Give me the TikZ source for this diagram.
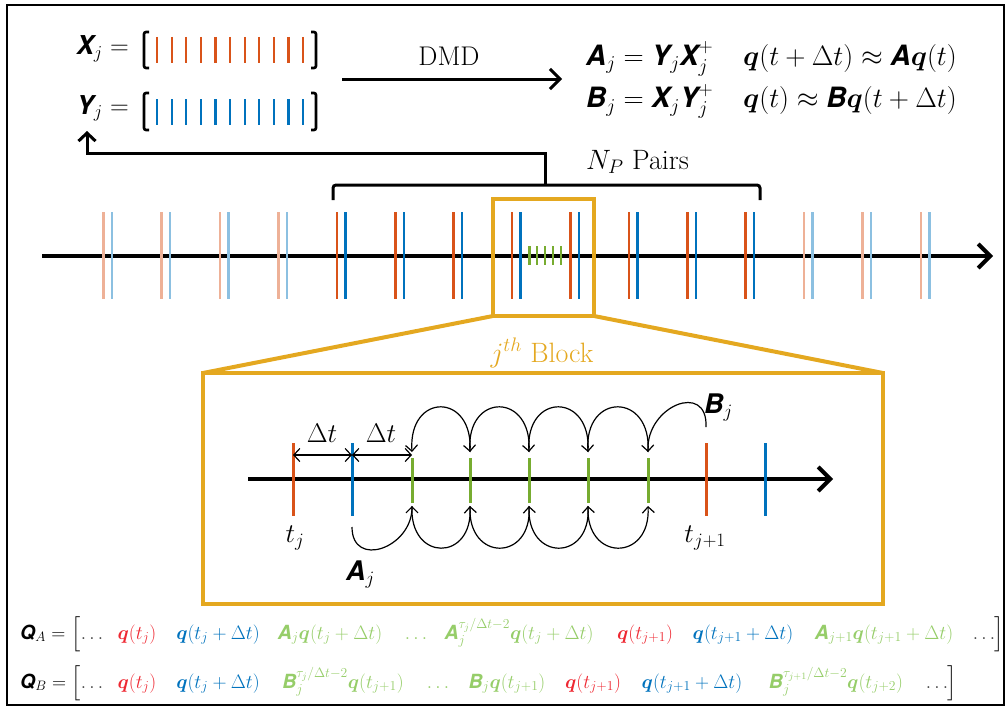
\RequirePackage{fix-cm}
\documentclass[tikz,border=0pt]{standalone}
\usepackage{amsmath,amssymb}
\usepackage{bm}
\usepackage{fontspec}
\usepackage{xcolor}
\usepackage{tikz}
\usetikzlibrary{arrows.meta, positioning, calc}

\definecolor{dmdorange}{RGB}{217,83,25}
\definecolor{dmdblue}{RGB}{0,114,189}
\definecolor{dmdgreen}{RGB}{119,172,48}
\definecolor{dmdgold}{RGB}{228,168,32}
\definecolor{qred}{RGB}{238,40,50}
\definecolor{qgreen}{RGB}{150,205,105}

\newfontfamily\heros{TeX Gyre Heros}
\newcommand{\mbf}[1]{\text{\heros\bfseries\itshape #1}}

\tikzset{
    timeline/.style={
        draw=black,
        line width=4pt,
        -{Straight Barb[length=12pt,width=24pt]}
    },
    pairtick/.style={
        line width=2.5pt
    },
    greentick/.style={
        draw=dmdgreen,
        line width=2.5pt
    },
    blockbox/.style={
        rectangle,
        draw=dmdgold,
        line width=4pt,
        outer sep=0pt,
        inner sep=0pt
    },
    zoomline/.style={
        draw=dmdgold,
        line width=4pt,
        line cap=round
    },
    flow/.style={
        draw=black,
        line width=3pt,
        -{Straight Barb[length=10pt,width=20pt]}
    },
    hop/.style={
        draw=black,
        line width=1.2pt,
        -{Straight Barb[length=6pt,width=12pt]}
    },
    span/.style={
        draw=black,
        line width=1.2pt,
        {Straight Barb[length=6pt,width=13pt]}-{Straight Barb[length=6pt,width=13pt]}
    },
    matbrack/.style={
        draw=black,
        line width=2.6pt,
        rounded corners=2pt
    },
    lbl/.style={
        font=\fontsize{27}{32}\selectfont,
        inner sep=0pt
    },
    qterm/.style={
        font=\fontsize{19.5}{23}\selectfont,
        inner sep=0pt,
        anchor=base
    }
}

\begin{document}
\begin{tikzpicture}[x=1pt, y=-1pt]

\useasboundingbox (0,0) rectangle (1008,709);
\draw[line width=2pt] (7,5) rectangle (1004,705);

% snapshot matrices
\node[lbl, font=\fontsize{26}{30}\selectfont, anchor=base east] (xlab) at (129,55) {$\mbf{X}_j =$};
\node[lbl, font=\fontsize{26}{30}\selectfont, anchor=base east] (ylab) at (129,114) {$\mbf{Y}_j =$};

\draw[matbrack] (149,32) -- (144,32) -- (144,68) -- (149,68);
\draw[matbrack] (311,32) -- (316,32) -- (316,68) -- (311,68);
\draw[matbrack] (149,93) -- (144,93) -- (144,130) -- (149,130);
\draw[matbrack] (311,93) -- (316,93) -- (316,130) -- (311,130);

\foreach \i in {0,...,10} {
    \draw[pairtick, line width=2.2pt, dmdorange] (157+14.6*\i,37) -- (157+14.6*\i,63);
    \draw[pairtick, line width=2.2pt, dmdblue] (157+14.6*\i,99) -- (157+14.6*\i,125);
}

% DMD step
\coordinate (dmdin) at (342,79);
\coordinate (dmdout) at (562,79);
\draw[flow] (dmdin) -- (dmdout);
\node[lbl, anchor=base] (dmdlab) at (449,65) {DMD};

\node[lbl, font=\fontsize{28}{33}\selectfont, anchor=west] (dmdeq) at (586,80) {$\begin{array}{@{}r@{{}={}}l@{\hspace{30pt}}l@{}}
    \mbf{A}_j & \mbf{Y}_j\mbf{X}_j^+ & \bm{q}(t+\Delta t)\approx \mbf{A}\bm{q}(t)\\[9pt]
    \mbf{B}_j & \mbf{X}_j\mbf{Y}_j^+ & \bm{q}(t)\approx \mbf{B}\bm{q}(t+\Delta t)
\end{array}$};

% full time series
\coordinate (tl0) at (42,256);
\coordinate (tl1) at (993,256);
\draw[timeline] (tl0) -- (tl1);

\foreach \k in {0,...,14} {
    \ifnum\k<4 \def\fade{45}\else\ifnum\k>11 \def\fade{45}\else\def\fade{100}\fi\fi
    \draw[pairtick, dmdorange!\fade] (103.3+58.4*\k,212) -- (103.3+58.4*\k,299);
    \draw[pairtick, dmdblue!\fade] (111.8+58.4*\k,212) -- (111.8+58.4*\k,299);
}
\foreach \i in {0,...,4} {
    \draw[greentick] (529.3+7.9*\i,246) -- (529.3+7.9*\i,265);
}

% pairs bracket
\coordinate (npL) at (333,200);
\coordinate (npR) at (760,200);
\coordinate (npM) at (545,185);
\coordinate (ytip) at (87,131);
\draw[matbrack, line width=3pt, rounded corners=3pt] (npL) -- (333,185) -- (760,185) -- (npR);
\draw[flow, -{Straight Barb[length=8pt,width=17pt]}] (npM) -- (545,153) -| (ytip);
\node[lbl, font=\fontsize{28}{33}\selectfont, anchor=base west] (nplab) at (586,169) {$N_P$ Pairs};

% j-th block and zoom
\node[blockbox, minimum width=101pt, minimum height=117pt] (blk) at (543.5,257.5) {};
\node[blockbox, minimum width=680pt, minimum height=231pt] (bigblk) at (543,488.5) {};
\draw[zoomline] (blk.south west) -- (bigblk.north west);
\draw[zoomline] (blk.south east) -- (bigblk.north east);
\node[lbl, font=\fontsize{28}{33}\selectfont, text=dmdgold, anchor=base] (blklab) at (542,362) {$j^{th}$ Block};

% inside the block
\coordinate (in0) at (248,479);
\coordinate (in1) at (833,479);
\draw[timeline] (in0) -- (in1);

\draw[pairtick, line width=3pt, dmdorange] (293,443) -- (293,516);
\draw[pairtick, line width=3pt, dmdblue] (352,443) -- (352,516);
\draw[pairtick, line width=3pt, dmdorange] (706,443) -- (706,516);
\draw[pairtick, line width=3pt, dmdblue] (765,443) -- (765,516);

\foreach \i/\x in {1/412,2/470,3/529,4/588,5/648} {
    \draw[greentick, line width=3pt] (\x,458) -- (\x,503);
    \coordinate (gt\i) at (\x,452);
    \coordinate (gb\i) at (\x,506);
}

\coordinate (dtA) at (293,455);
\coordinate (dtB) at (352,455);
\coordinate (dtC) at (412,455);
\draw[span] (dtA) -- (dtB);
\draw[span] (dtB) -- (dtC);
\node[lbl, anchor=base] (dtlabA) at (322,442) {$\Delta t$};
\node[lbl, anchor=base] (dtlabB) at (381,442) {$\Delta t$};

\coordinate (abeg) at (352,527);
\draw[hop] (abeg) .. controls +(0,42) and +(0,42) .. (gb1);
\foreach \i [evaluate=\i as \j using int(\i+1)] in {1,...,4} {
    \draw[hop] (gb\i) .. controls +(-3,56) and +(3,56) .. (gb\j);
}

\coordinate (bbeg) at (706,427);
\draw[hop] (bbeg) .. controls +(2,-46) and +(-2,-46) .. (gt5);
\foreach \i [evaluate=\i as \j using int(\i-1)] in {5,...,2} {
    \draw[hop] (gt\i) .. controls +(4,-60) and +(-4,-60) .. (gt\j);
}

\node[lbl, anchor=base] (tjlab) at (295,542) {$t_j$};
\node[lbl, anchor=base] (tj1lab) at (705,542) {$t_{j+1}$};
\node[lbl, anchor=base west] (alab) at (346,580) {$\mbf{A}_j$};
\node[lbl, anchor=base west] (blab) at (704,413) {$\mbf{B}_j$};

% snapshot orderings
\node[qterm, anchor=base west] (qa0) at (20,639) {$\mbf{Q}_A =$};
\node[qterm] (qa1) at (76,639) {$\Big[$};
\node[qterm, text=black!75] (qa2) at (92,639) {$\ldots$};
\node[qterm, text=qred] (qa3) at (137,639) {$\bm{q}(t_j)$};
\node[qterm, text=dmdblue] (qa4) at (218,639) {$\bm{q}(t_j+\Delta t)$};
\node[qterm, text=qgreen] (qa5) at (330,639) {$\mbf{A}_j\bm{q}(t_j+\Delta t)$};
\node[qterm, text=qgreen] (qa6) at (416,639) {$\ldots$};
\node[qterm, text=qgreen] (qa7) at (519,639) {$\mbf{A}_j^{\tau_j/\Delta t-2}\bm{q}(t_j+\Delta t)$};
\node[qterm, text=qred] (qa8) at (645,639) {$\bm{q}(t_{j+1})$};
\node[qterm, text=dmdblue] (qa9) at (743,639) {$\bm{q}(t_{j+1}+\Delta t)$};
\node[qterm, text=qgreen] (qa10) at (884,639) {$\mbf{A}_{j+1}\bm{q}(t_{j+1}+\Delta t)$};
\node[qterm, text=black!75] (qa11) at (984,639) {$\ldots$};
\node[qterm] (qa12) at (999,639) {$\Big]$};

\node[qterm, anchor=base west] (qb0) at (20,688) {$\mbf{Q}_B =$};
\node[qterm] (qb1) at (76,688) {$\Big[$};
\node[qterm, text=black!75] (qb2) at (92,688) {$\ldots$};
\node[qterm, text=qred] (qb3) at (137,688) {$\bm{q}(t_j)$};
\node[qterm, text=dmdblue] (qb4) at (218,688) {$\bm{q}(t_j+\Delta t)$};
\node[qterm, text=qgreen] (qb5) at (343,688) {$\mbf{B}_j^{\tau_j/\Delta t-2}\bm{q}(t_{j+1})$};
\node[qterm, text=qgreen] (qb6) at (438,688) {$\ldots$};
\node[qterm, text=qgreen] (qb7) at (507,688) {$\mbf{B}_j\bm{q}(t_{j+1})$};
\node[qterm, text=qred] (qb8) at (593,688) {$\bm{q}(t_{j+1})$};
\node[qterm, text=dmdblue] (qb9) at (692,688) {$\bm{q}(t_{j+1}+\Delta t)$};
\node[qterm, text=qgreen] (qb10) at (836,688) {$\mbf{B}_j^{\tau_{j+1}/\Delta t-2}\bm{q}(t_{j+2})$};
\node[qterm, text=black!75] (qb11) at (937,688) {$\ldots$};
\node[qterm] (qb12) at (952,688) {$\Big]$};

\end{tikzpicture}
\end{document}
